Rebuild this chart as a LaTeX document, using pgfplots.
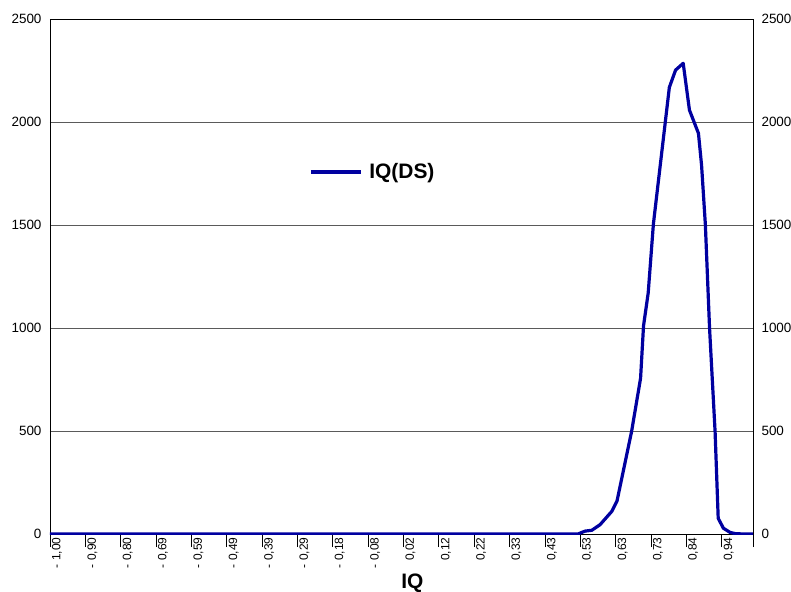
\documentclass[border=0pt]{standalone}
\usepackage{fontspec}
\setmainfont{Liberation Sans}
\usepackage{pgfplots}
\pgfplotsset{compat=1.18}
\usetikzlibrary{calc}
\definecolor{navy}{RGB}{0,0,160}
\definecolor{gridgray}{RGB}{90,90,90}

\begin{document}
\begin{tikzpicture}
\begin{axis}[
  name=ax,
  scale only axis, width=703bp, height=515bp,
  xmin=-1, xmax=1.0284, ymin=0, ymax=2500,
  ytick={0,500,1000,1500,2000,2500},
  /pgf/number format/assume math mode=true,
  /pgf/number format/1000 sep={},
  yticklabel style={font=\fontsize{13.5}{15}\selectfont, xshift=-5bp},
  ymajorgrids, grid style={gridgray, line width=0.7bp},
  axis line style={black, line width=0.8bp},
  major tick length=0pt,
  xtick pos=bottom,
  xtick={-0.9798,-0.8778,-0.7758,-0.6738,-0.5718,-0.4698,-0.3678,-0.2658,-0.1638,-0.0618,0.0402,0.1422,0.2442,0.3462,0.4482,0.5502,0.6522,0.7542,0.8562,0.9582},
  xticklabels={{- 1,00},{- 0,90},{- 0,80},{- 0,69},{- 0,59},{- 0,49},{- 0,39},{- 0,29},{- 0,18},{- 0,08},{0,02},{0,12},{0,22},{0,33},{0,43},{0,53},{0,63},{0,73},{0,84},{0,94}},
  xticklabel style={rotate=90, anchor=east, font=\fontsize{12}{14}\selectfont},
  extra x ticks={-1,-0.898,-0.796,-0.694,-0.592,-0.49,-0.388,-0.286,-0.184,-0.082,0.02,0.122,0.224,0.326,0.428,0.53,0.632,0.734,0.836,0.938,1.0284},
  extra x tick labels={},
  extra x tick style={major tick length=13bp, tick align=outside, xtick pos=bottom, tick style={black, line width=0.8bp}, grid=none},
  xlabel={\textbf{IQ}},
  xlabel style={at={(axis description cs:0.5156,0)}, anchor=base, yshift=-54bp, font=\fontsize{21}{23}\selectfont},
  legend style={at={(rel axis cs:0.3684,0.703)}, anchor=west, draw=none, fill=none, inner sep=0pt,
    font=\fontsize{21}{23}\selectfont\bfseries},
  legend image code/.code={\draw[#1] (0bp,0bp) -- (50bp,0bp); \path (55bp,0bp);},
  legend cell align=left,
]
\addplot[navy, line width=3.2bp, line join=round] coordinates {
(-1,0) (0.5235,0) (0.5437,14) (0.563,18) (0.587,45) (0.621,110) (0.636,160)
(0.678,497) (0.704,756) (0.7125,1010) (0.726,1170) (0.741,1505) (0.787,2168)
(0.805,2252) (0.827,2285) (0.845,2058) (0.871,1945) (0.880,1790) (0.891,1500)
(0.903,1000) (0.919,497) (0.928,76) (0.943,28) (0.962,8) (0.979,1) (1.0284,0)
};
\addlegendentry{IQ(DS)}
\end{axis}
\begin{axis}[
  scale only axis, width=703bp, height=515bp,
  xmin=-1, xmax=1.0284, ymin=0, ymax=2500,
  axis x line=none, axis y line*=right,
  axis line style={black, line width=0.8bp},
  ytick={0,500,1000,1500,2000,2500},
  /pgf/number format/assume math mode=true,
  /pgf/number format/1000 sep={},
  yticklabel style={font=\fontsize{13.5}{15}\selectfont, xshift=5bp},
  major tick length=0pt,
]
\addplot[draw=none] coordinates {(0,0) (1,1)};
\end{axis}
\pgfresetboundingbox
\path[use as bounding box] ($(ax.south west)+(-50bp,-58bp)$) rectangle ($(ax.north east)+(38bp,19bp)$);
\end{tikzpicture}
\end{document}
